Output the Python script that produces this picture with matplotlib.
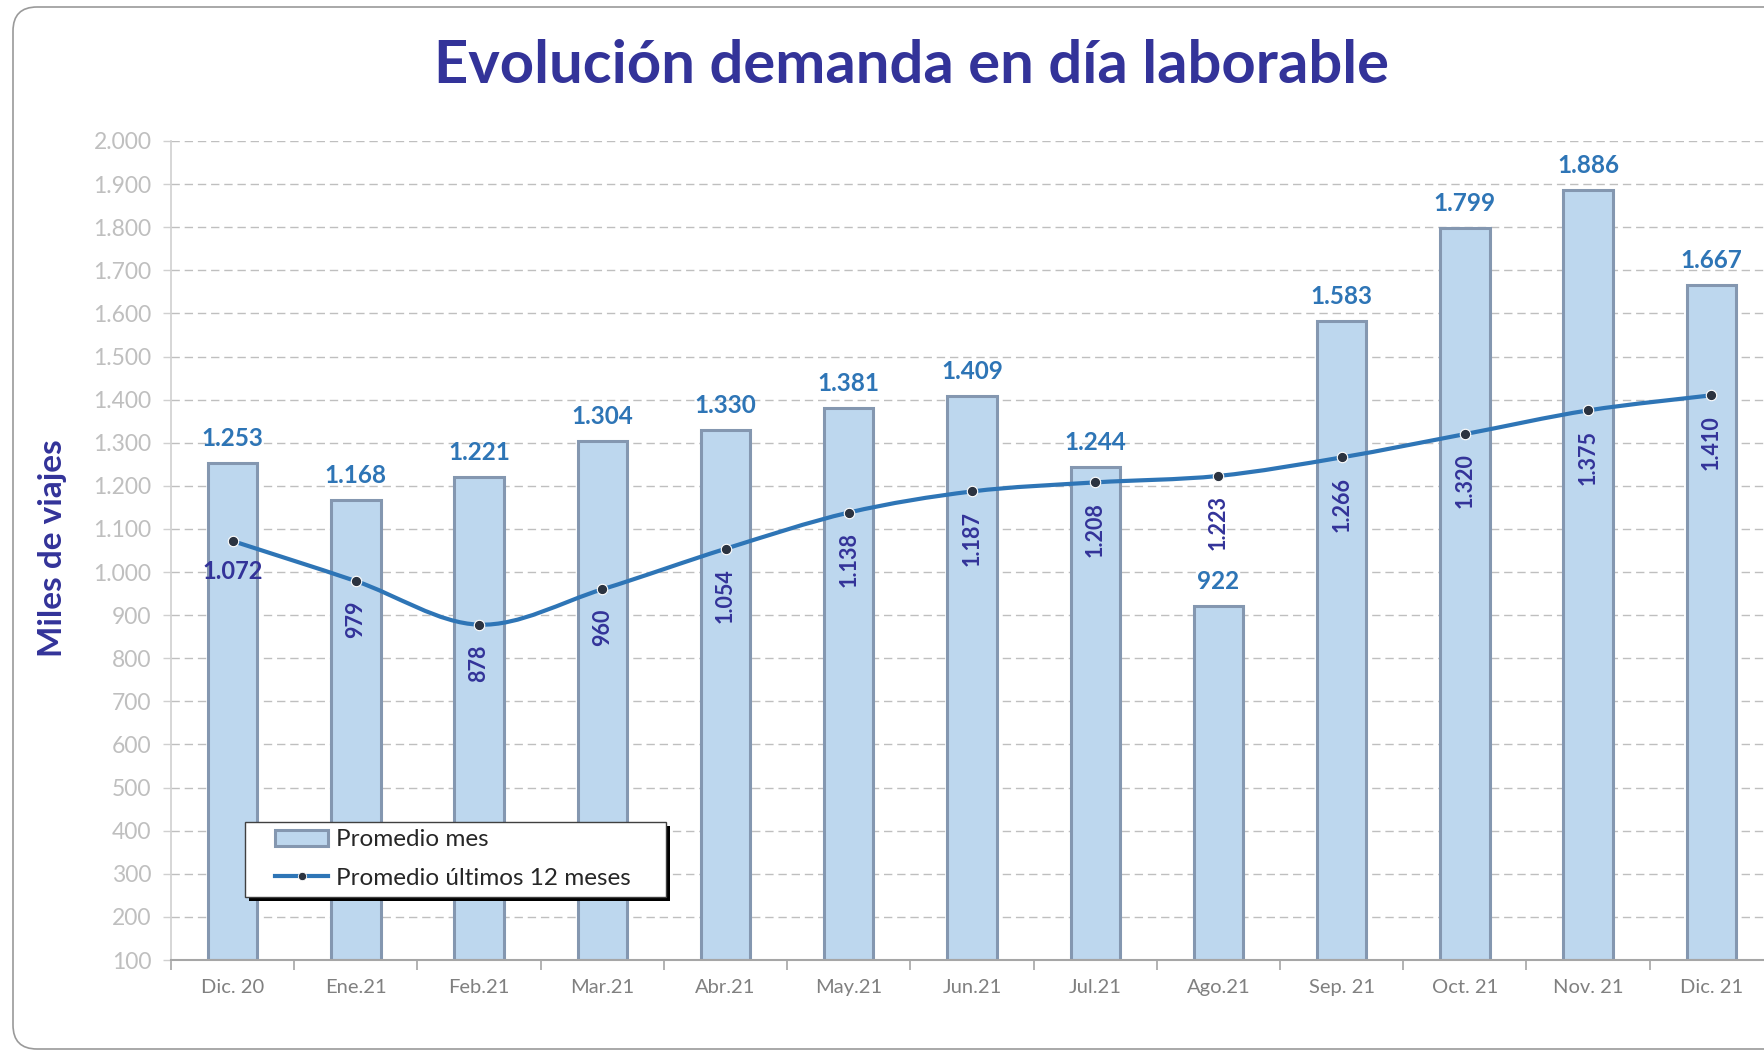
import matplotlib
matplotlib.use("Agg")
import matplotlib.pyplot as plt
import numpy as np
from matplotlib.path import Path
from matplotlib.patches import PathPatch, FancyBboxPatch, Patch, Rectangle
from matplotlib.lines import Line2D
from matplotlib.transforms import IdentityTransform
from matplotlib.ticker import FixedLocator, NullFormatter

plt.rcParams['font.family'] = ['Lato', 'DejaVu Sans']

# ---- data ----
categories = ["Dic. 20", "Ene.21", "Feb.21", "Mar.21", "Abr.21", "May.21", "Jun.21",
              "Jul.21", "Ago.21", "Sep. 21", "Oct. 21", "Nov. 21", "Dic. 21"]
promedio_mes = [1253, 1168, 1221, 1304, 1330, 1381, 1409, 1244, 922, 1583, 1799, 1886, 1667]
promedio_12m = [1072, 979, 878, 960, 1054, 1138, 1187, 1208, 1223, 1266, 1320, 1375, 1410]
y_ticks = list(range(100, 2001, 100))

title = "Evolución demanda en día laborable"
ylabel = "Miles de viajes"
legend_labels = ["Promedio mes", "Promedio últimos 12 meses"]

# ---- style ----
BAR_FACE = "#BDD7EE"
BAR_EDGE = "#8497B0"
LINE_C = "#2E75B6"
MARK_C = "#2B3340"
BAR_LBL = "#2E75B6"
LINE_LBL = "#333399"
TITLE_C = "#333399"


def fmt(v):
    return f"{v:,}".replace(",", ".")


fig = plt.figure(figsize=(17.65, 10.53), dpi=100)

# outer rounded frame
frame = FancyBboxPatch((13, 4), 1850, 1042, boxstyle="round,pad=0,rounding_size=24",
                       transform=IdentityTransform(), facecolor="white",
                       edgecolor="#9A9A9A", lw=1.2, zorder=-10)
fig.patches.append(frame)

ax = fig.add_axes([0.0969, 0.0883, 0.9076, 0.7778])
ax.set_facecolor("none")
x = np.arange(len(categories))

bars = ax.bar(x, np.array(promedio_mes) - 100, bottom=100, width=0.40,
              color=BAR_FACE, edgecolor=BAR_EDGE, linewidth=2.2, zorder=2)

# smoothed line (Catmull-Rom style Bezier through the data points)
pts = np.column_stack([x, promedio_12m]).astype(float)
ext = np.vstack([pts[0], pts, pts[-1]])
verts = [tuple(pts[0])]
codes = [Path.MOVETO]
for i in range(len(pts) - 1):
    p0, p1, p2, p3 = ext[i], ext[i + 1], ext[i + 2], ext[i + 3]
    c1 = p1 + (p2 - p0) / 6.0
    c2 = p2 - (p3 - p1) / 6.0
    verts += [tuple(c1), tuple(c2), tuple(p2)]
    codes += [Path.CURVE4] * 3
ax.add_patch(PathPatch(Path(verts, codes), facecolor="none", edgecolor=LINE_C,
                       lw=3.0, zorder=3, capstyle="round"))
ax.plot(x, promedio_12m, linestyle="none", marker="o", markersize=7.5,
        markerfacecolor=MARK_C, markeredgecolor="white", markeredgewidth=0.8, zorder=4)

# labels
for xi, v in zip(x, promedio_mes):
    ax.annotate(fmt(v), (xi, v), xytext=(0, 12), textcoords="offset points",
                ha="center", va="baseline", fontsize=17.5, fontweight="bold",
                color=BAR_LBL, zorder=5)
for i, (xi, v) in enumerate(zip(x, promedio_12m)):
    rot = 0 if i == 0 else 90
    ax.annotate(fmt(v), (xi, v), xytext=(0, -14), textcoords="offset points",
                ha="center", va="top", rotation=rot, fontsize=17 if i == 0 else 15.5,
                fontweight="bold", color=LINE_LBL, zorder=5)

# axes formatting
ax.set_xlim(-0.5, len(categories) - 0.5)
ax.set_ylim(100, 2000)
ax.set_yticks(y_ticks)
ax.set_yticklabels([fmt(t) for t in y_ticks])
ax.set_xticks(x)
ax.set_xticklabels(categories)
ax.xaxis.set_minor_locator(FixedLocator(np.arange(-0.5, len(categories), 1.0)))
ax.xaxis.set_minor_formatter(NullFormatter())
ax.tick_params(axis="x", which="major", length=0, pad=14, labelsize=14.5, labelcolor="#808080")
ax.tick_params(axis="x", which="minor", length=7, width=1.2, color="#A6A6A6", direction="out")
ax.tick_params(axis="y", which="major", length=6, width=1, color="#D0D0D0", pad=8,
               labelsize=16.5, labelcolor="#BFBFBF")
ax.grid(axis="y", color="#BFBFBF", linestyle=(0, (6, 3.5)), linewidth=1.0, zorder=0)
ax.set_axisbelow(True)
for s in ("top", "right"):
    ax.spines[s].set_visible(False)
ax.spines["left"].set_color("#D0D0D0")
ax.spines["left"].set_linewidth(1.2)
ax.spines["bottom"].set_color("#A6A6A6")
ax.spines["bottom"].set_linewidth(1.5)

# title and y label
fig.text(0.5167, 0.937, title, ha="center", va="center", fontsize=43,
         fontweight="bold", color=TITLE_C)
fig.text(0.030, 0.4796, ylabel, ha="center", va="center", rotation=90, fontsize=24,
         fontweight="bold", color=TITLE_C)

# legend frame with hard black shadow (drawn separately for exact box placement)
lx0, ly0, lw_, lh_ = 245 / 1765, 1 - 897 / 1053, (666 - 245) / 1765, (897 - 822) / 1053
sdx, sdy = 4 / 1765, 4 / 1053
fig.patches.append(Rectangle((lx0 + sdx, ly0 - sdy), lw_, lh_, transform=fig.transFigure,
                             facecolor="black", edgecolor="black", lw=0, zorder=8))
fig.patches.append(Rectangle((lx0, ly0), lw_, lh_, transform=fig.transFigure,
                             facecolor="white", edgecolor="#404040", lw=1.0, zorder=9))

handles = [Patch(facecolor=BAR_FACE, edgecolor=BAR_EDGE, linewidth=2.2),
           Line2D([0], [0], color=LINE_C, lw=3.0, marker="o", markersize=6,
                  markerfacecolor=MARK_C, markeredgecolor="white", markeredgewidth=0.6)]
leg = fig.legend(handles, legend_labels, loc="center left",
                 bbox_to_anchor=(275 / 1765, 1 - 859 / 1053), bbox_transform=fig.transFigure,
                 borderaxespad=0, borderpad=0, frameon=False, fontsize=17.5,
                 handlelength=2.2, handleheight=0.65, handletextpad=0.3,
                 labelspacing=0.72)
leg.set_zorder(10)
for t in leg.get_texts():
    t.set_color("#262626")

fig.savefig("out.png", dpi=100)
